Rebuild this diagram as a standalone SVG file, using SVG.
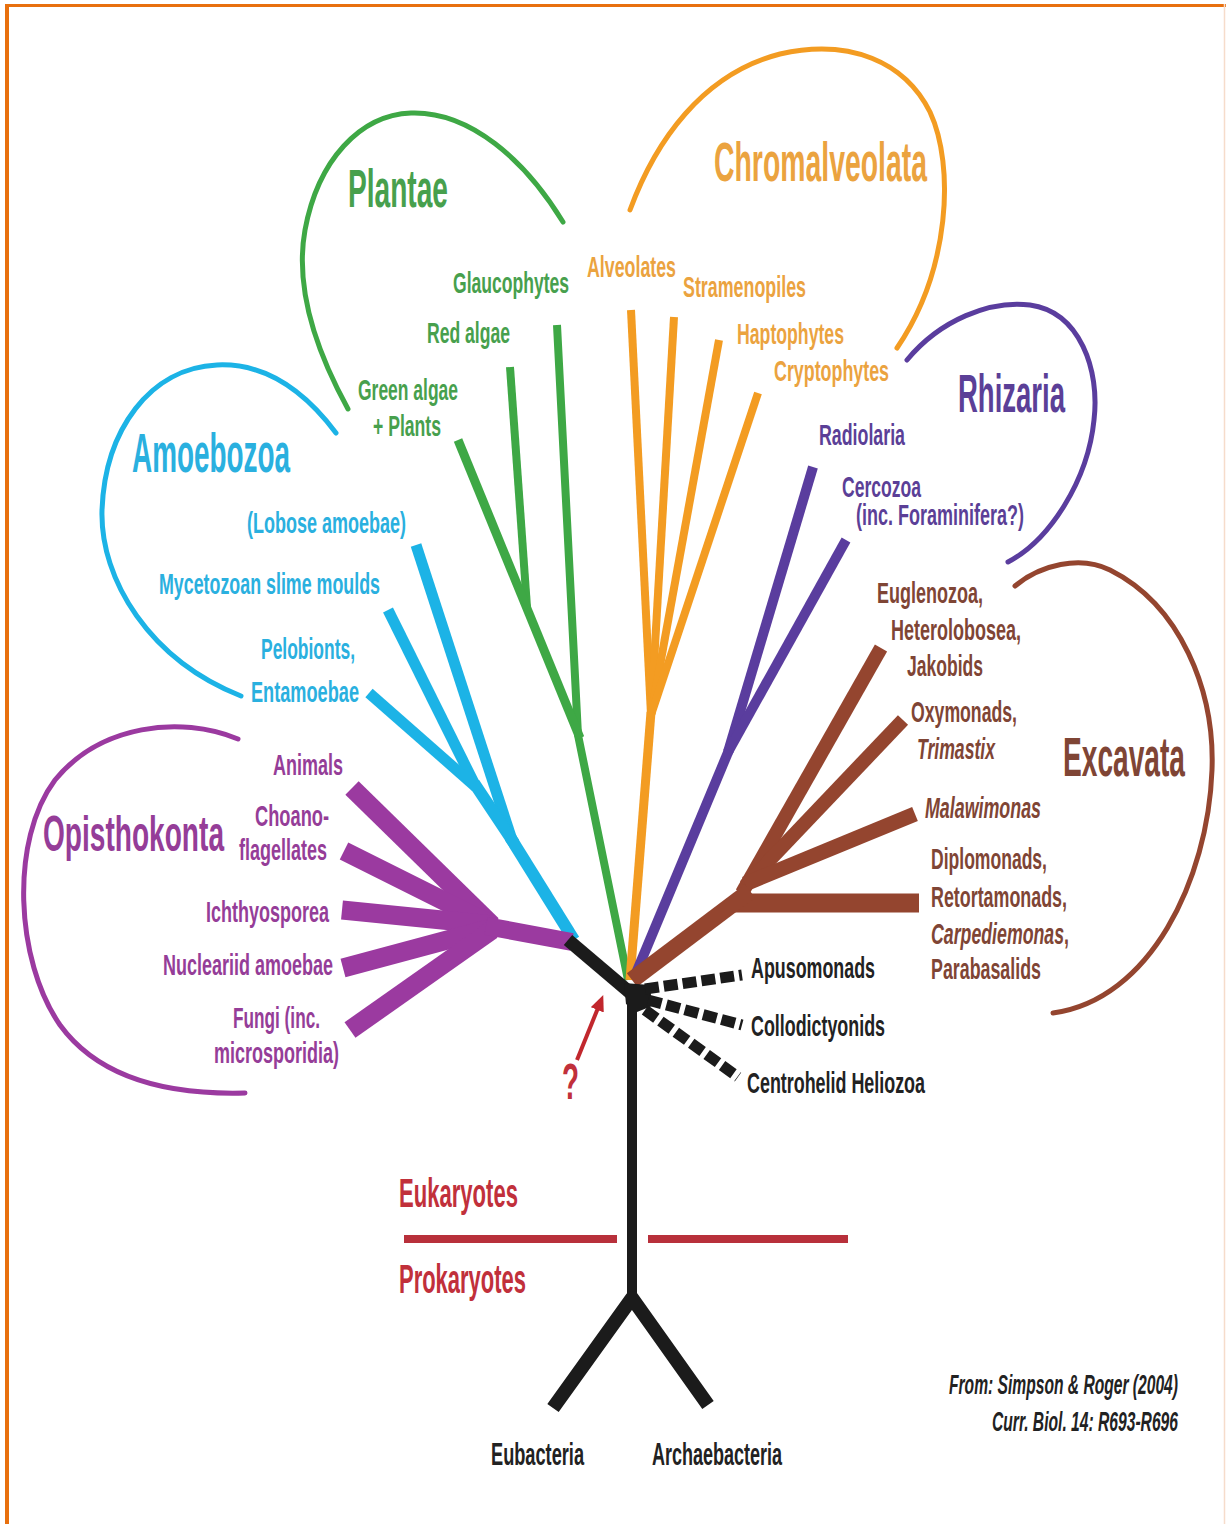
<svg xmlns="http://www.w3.org/2000/svg" width="1226" height="1524" viewBox="0 0 1226 1524">
<defs>
<style>
text{font-family:"Liberation Sans Narrow","Liberation Sans",Arial,sans-serif;font-weight:bold}
.big{font-size:54px}
.sm{font-size:30px}
.it{font-style:italic}
.g{fill:#47a04d}.o{fill:#eba33f}.r{fill:#5b3f97}.c{fill:#2ab0df}.p{fill:#953d98}.b{fill:#7f4535}.k{fill:#222}.red{fill:#c1303b}
.ln{fill:none;stroke-linecap:butt;stroke-linejoin:round}
.arc{fill:none;stroke-width:5;stroke-linecap:round}
.gs{stroke:#3ea845}.os{stroke:#f39c22}.rs{stroke:#5a3d9e}.cs{stroke:#1cb3e6}.ps{stroke:#9b3aa0}.bs{stroke:#94452f}.ks{stroke:#1b1b1b}
.dash{fill:none;stroke:#1b1b1b;stroke-width:11;stroke-dasharray:14 5}
</style>
<marker id="ah" markerUnits="userSpaceOnUse" markerWidth="16" markerHeight="14" refX="2" refY="7" orient="auto">
<path d="M0,0 L16,7 L0,14 Z" fill="#c1272d"/>
</marker>
</defs>
<rect width="1226" height="1524" fill="#ffffff"/>
<g id="frame">
<line x1="5" y1="5.5" x2="1226" y2="5.5" stroke="#e8700e" stroke-width="3"/>
<line x1="7" y1="4" x2="7" y2="1524" stroke="#e8700e" stroke-width="4"/>
<line x1="1224.5" y1="4" x2="1224.5" y2="1524" stroke="#f6dccb" stroke-width="1.5"/>
</g>
<g id="connectors">
<!-- Plantae -->
<polyline class="ln gs" stroke-width="8" points="557,325 578,735 628,980"/>
<line class="ln gs" stroke-width="8" x1="510" y1="367" x2="527" y2="607"/>
<line class="ln gs" stroke-width="9" x1="458" y1="440" x2="580" y2="738"/>
<!-- Chromalveolata -->
<line class="ln os" stroke-width="8" x1="631" y1="310" x2="651" y2="715"/>
<line class="ln os" stroke-width="8" x1="674" y1="317" x2="651" y2="715"/>
<line class="ln os" stroke-width="8" x1="719" y1="340" x2="651" y2="715"/>
<line class="ln os" stroke-width="8" x1="758" y1="393" x2="651" y2="715"/>
<line class="ln os" stroke-width="9" x1="651" y1="712" x2="630" y2="980"/>
<!-- Rhizaria -->
<line class="ln rs" stroke-width="10" x1="813" y1="467" x2="728" y2="752"/>
<line class="ln rs" stroke-width="10" x1="846" y1="540" x2="728" y2="752"/>
<line class="ln rs" stroke-width="10" x1="729" y1="750" x2="634" y2="978"/>
<!-- Amoebozoa -->
<line class="ln cs" stroke-width="11" x1="416" y1="545" x2="512" y2="840"/>
<line class="ln cs" stroke-width="11" x1="388" y1="610" x2="476" y2="787"/>
<line class="ln cs" stroke-width="11" x1="369" y1="693" x2="476" y2="787"/>
<line class="ln cs" stroke-width="12" x1="474" y1="783" x2="514" y2="843"/>
<line class="ln cs" stroke-width="12" x1="510" y1="837" x2="574" y2="940"/>
<!-- Opisthokonta -->
<line class="ln ps" stroke-width="19" x1="352" y1="788" x2="492" y2="925"/>
<line class="ln ps" stroke-width="19" x1="344" y1="851" x2="492" y2="925"/>
<line class="ln ps" stroke-width="19" x1="342" y1="910" x2="492" y2="925"/>
<line class="ln ps" stroke-width="19" x1="343" y1="968" x2="492" y2="928"/>
<line class="ln ps" stroke-width="19" x1="350" y1="1030" x2="492" y2="930"/>
<line class="ln ps" stroke-width="18" x1="486" y1="926" x2="572" y2="942"/>
<!-- Excavata -->
<line class="ln bs" stroke-width="14" x1="881" y1="648" x2="742" y2="893"/>
<line class="ln bs" stroke-width="14" x1="903" y1="720" x2="745" y2="886"/>
<line class="ln bs" stroke-width="15" x1="915" y1="814" x2="745" y2="884"/>
<line class="ln bs" stroke-width="19" x1="919" y1="903" x2="735" y2="903"/>
<line class="ln bs" stroke-width="17" x1="750" y1="891" x2="632" y2="980"/>
<!-- black root -->
<line class="ln ks" stroke-width="13" x1="568" y1="940" x2="634" y2="996"/>
<polygon points="624,983 650,985 652,1006 637,1012 626,1004" fill="#1b1b1b"/>
<line class="dash" x1="645" y1="989" x2="742" y2="975"/>
<line class="dash" x1="648" y1="1000" x2="742" y2="1025"/>
<line class="dash" x1="645" y1="1010" x2="738" y2="1077"/>
<line class="ln ks" stroke-width="10" x1="632" y1="995" x2="632" y2="1302"/>
<polyline class="ln ks" stroke-width="14" stroke-linejoin="miter" points="553,1408 632,1298 708,1405"/>
<!-- eukaryote / prokaryote divider -->
<line x1="404" y1="1239" x2="617" y2="1239" stroke="#b8303b" stroke-width="8"/>
<line x1="648" y1="1239" x2="848" y2="1239" stroke="#b8303b" stroke-width="8"/>
<!-- red arrow -->
<line x1="577" y1="1060" x2="598" y2="1008" stroke="#c1272d" stroke-width="4" marker-end="url(#ah)"/>
</g>
<g id="plantae">
<path class="arc gs" d="M348,409 C310,340 296,280 305,230 C318,160 360,115 411,113 C470,111 525,160 563,222"/>
<text class="big g" x="348" y="207" textLength="100" lengthAdjust="spacingAndGlyphs">Plantae</text>
</g>
<g id="glaucophytes"><text class="sm g" x="453" y="293" textLength="116" lengthAdjust="spacingAndGlyphs">Glaucophytes</text></g>
<g id="red-algae"><text class="sm g" x="427" y="343" textLength="83" lengthAdjust="spacingAndGlyphs">Red algae</text></g>
<g id="green-algae"><text class="sm g" x="358" y="400" textLength="100" lengthAdjust="spacingAndGlyphs">Green algae</text>
<text class="sm g" x="373" y="436" textLength="68" lengthAdjust="spacingAndGlyphs">+ Plants</text></g>
<g id="chromalveolata">
<path class="arc os" stroke-width="4.5" d="M630,210 C655,142 702,74 780,54 C850,38 905,62 930,112 C955,166 950,270 897,348"/>
<text class="o" font-size="56" x="714" y="181" textLength="213" lengthAdjust="spacingAndGlyphs">Chromalveolata</text>
</g>
<g id="alveolates"><text class="sm o" x="587" y="277" textLength="89" lengthAdjust="spacingAndGlyphs">Alveolates</text></g>
<g id="stramenopiles"><text class="sm o" x="683" y="297" textLength="123" lengthAdjust="spacingAndGlyphs">Stramenopiles</text></g>
<g id="haptophytes"><text class="sm o" x="737" y="344" textLength="107" lengthAdjust="spacingAndGlyphs">Haptophytes</text></g>
<g id="cryptophytes"><text class="sm o" x="774" y="381" textLength="115" lengthAdjust="spacingAndGlyphs">Cryptophytes</text></g>
<g id="rhizaria">
<path class="arc rs" d="M907,360 C940,320 990,300 1030,305 C1080,312 1100,370 1094,420 C1088,480 1050,540 1008,562"/>
<text class="big r" x="1065" y="412" text-anchor="end" textLength="107" lengthAdjust="spacingAndGlyphs">Rhizaria</text>
</g>
<g id="radiolaria"><text class="sm r" x="819" y="445" textLength="86" lengthAdjust="spacingAndGlyphs">Radiolaria</text></g>
<g id="cercozoa"><text class="sm r" font-size="29" x="842" y="497" textLength="79" lengthAdjust="spacingAndGlyphs">Cercozoa</text>
<text class="sm r" font-size="29" x="1024" y="525" text-anchor="end" textLength="168" lengthAdjust="spacingAndGlyphs">(inc. Foraminifera?)</text></g>
<g id="amoebozoa">
<path class="arc cs" d="M336,433 C300,385 260,363 217,365 C150,368 105,430 102,510 C100,580 150,660 241,696"/>
<text class="c" font-size="56" x="132" y="472" textLength="158" lengthAdjust="spacingAndGlyphs">Amoebozoa</text>
</g>
<g id="lobose"><text class="sm c" x="247" y="533" textLength="159" lengthAdjust="spacingAndGlyphs">(Lobose amoebae)</text></g>
<g id="mycetozoan"><text class="sm c" x="159" y="594" textLength="221" lengthAdjust="spacingAndGlyphs">Mycetozoan slime moulds</text></g>
<g id="pelobionts"><text class="sm c" x="261" y="659" textLength="94" lengthAdjust="spacingAndGlyphs">Pelobionts,</text>
<text class="sm c" x="251" y="702" textLength="108" lengthAdjust="spacingAndGlyphs">Entamoebae</text></g>
<g id="opisthokonta">
<path class="arc ps" d="M238,739 C180,715 100,725 55,780 C10,840 15,960 60,1025 C100,1080 170,1095 245,1093"/>
<text class="p" font-size="50" x="43" y="851" textLength="181" lengthAdjust="spacingAndGlyphs">Opisthokonta</text>
</g>
<g id="animals"><text class="sm p" x="343" y="775" text-anchor="end" textLength="70" lengthAdjust="spacingAndGlyphs">Animals</text></g>
<g id="choanoflagellates"><text class="sm p" x="329" y="826" text-anchor="end" textLength="74" lengthAdjust="spacingAndGlyphs">Choano-</text>
<text class="sm p" x="327" y="860" text-anchor="end" textLength="88" lengthAdjust="spacingAndGlyphs">flagellates</text></g>
<g id="ichthyosporea"><text class="sm p" x="329" y="922" text-anchor="end" textLength="123" lengthAdjust="spacingAndGlyphs">Ichthyosporea</text></g>
<g id="nucleariid"><text class="sm p" x="333" y="975" text-anchor="end" textLength="170" lengthAdjust="spacingAndGlyphs">Nucleariid amoebae</text></g>
<g id="fungi"><text class="sm p" x="320" y="1028" text-anchor="end" textLength="87" lengthAdjust="spacingAndGlyphs">Fungi (inc.</text>
<text class="sm p" x="339" y="1063" text-anchor="end" textLength="125" lengthAdjust="spacingAndGlyphs">microsporidia)</text></g>
<g id="excavata">
<path class="arc bs" d="M1015,586 C1040,565 1080,555 1110,570 C1180,605 1215,690 1212,770 C1208,880 1150,1000 1053,1013"/>
<text class="b" font-size="56" x="1185" y="776" text-anchor="end" textLength="122" lengthAdjust="spacingAndGlyphs">Excavata</text>
</g>
<g id="euglenozoa"><text class="sm b" x="877" y="603" textLength="106" lengthAdjust="spacingAndGlyphs">Euglenozoa,</text>
<text class="sm b" x="1021" y="640" text-anchor="end" textLength="130" lengthAdjust="spacingAndGlyphs">Heterolobosea,</text>
<text class="sm b" x="907" y="676" textLength="76" lengthAdjust="spacingAndGlyphs">Jakobids</text></g>
<g id="oxymonads"><text class="sm b" x="1017" y="722" text-anchor="end" textLength="106" lengthAdjust="spacingAndGlyphs">Oxymonads,</text>
<text class="sm b it" x="917" y="759" textLength="78" lengthAdjust="spacingAndGlyphs">Trimastix</text></g>
<g id="malawimonas"><text class="sm b it" x="1041" y="818" text-anchor="end" textLength="116" lengthAdjust="spacingAndGlyphs">Malawimonas</text></g>
<g id="diplomonads"><text class="sm b" x="1047" y="869" text-anchor="end" textLength="116" lengthAdjust="spacingAndGlyphs">Diplomonads,</text>
<text class="sm b" x="1067" y="907" text-anchor="end" textLength="136" lengthAdjust="spacingAndGlyphs">Retortamonads,</text>
<text class="sm b" x="1069" y="944" text-anchor="end" textLength="138" lengthAdjust="spacingAndGlyphs"><tspan class="it">Carpediemonas</tspan>,</text>
<text class="sm b" x="1041" y="979" text-anchor="end" textLength="110" lengthAdjust="spacingAndGlyphs">Parabasalids</text></g>
<g id="apusomonads"><text class="sm k" x="751" y="978" textLength="124" lengthAdjust="spacingAndGlyphs">Apusomonads</text></g>
<g id="collodictyonids"><text class="sm k" x="751" y="1036" textLength="134" lengthAdjust="spacingAndGlyphs">Collodictyonids</text></g>
<g id="centrohelid"><text class="sm k" x="747" y="1093" textLength="178" lengthAdjust="spacingAndGlyphs">Centrohelid Heliozoa</text></g>
<g id="question"><text class="red" font-size="50" x="562" y="1099" textLength="17" lengthAdjust="spacingAndGlyphs">?</text></g>
<g id="eukaryotes"><text class="red" font-size="40" x="399" y="1207" textLength="119" lengthAdjust="spacingAndGlyphs">Eukaryotes</text></g>
<g id="prokaryotes"><text class="red" font-size="41" x="399" y="1293" textLength="127" lengthAdjust="spacingAndGlyphs">Prokaryotes</text></g>
<g id="eubacteria"><text class="k" font-size="32" x="491" y="1465" textLength="93" lengthAdjust="spacingAndGlyphs">Eubacteria</text></g>
<g id="archaebacteria"><text class="k" font-size="32" x="652" y="1465" textLength="130" lengthAdjust="spacingAndGlyphs">Archaebacteria</text></g>
<g id="citation">
<text class="k it" font-size="28" x="1178" y="1394" text-anchor="end" textLength="229" lengthAdjust="spacingAndGlyphs">From: Simpson &amp; Roger (2004)</text>
<text class="k it" font-size="28" x="1178" y="1431" text-anchor="end" textLength="186" lengthAdjust="spacingAndGlyphs">Curr. Biol. 14: R693-R696</text>
</g>
</svg>
